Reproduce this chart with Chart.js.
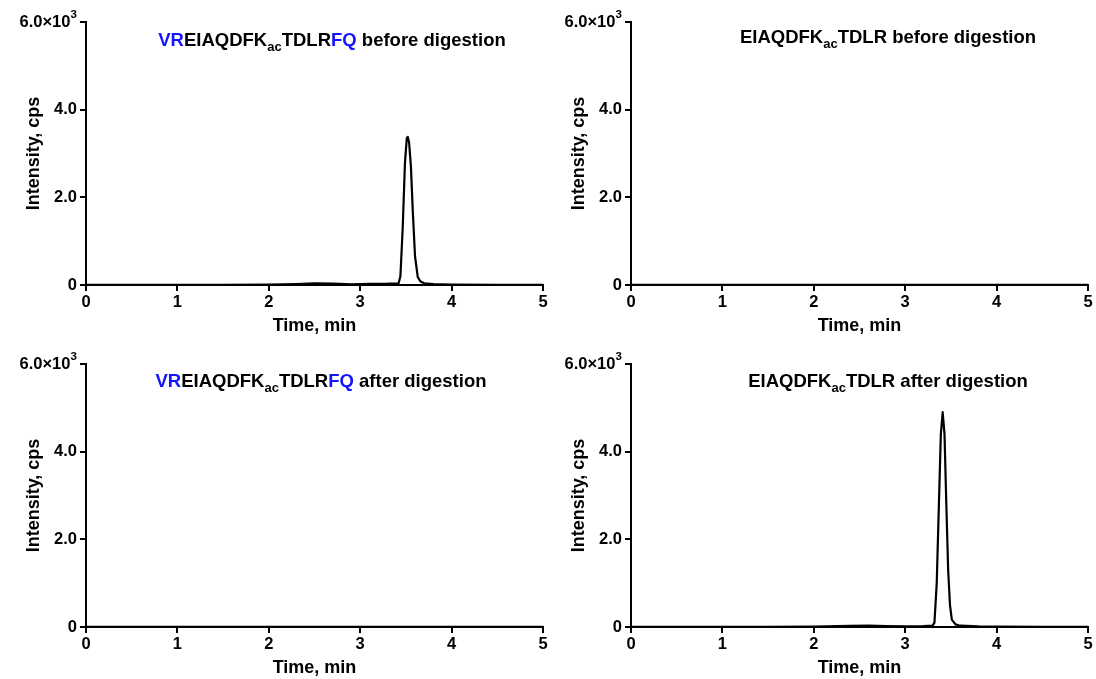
<!DOCTYPE html>
<html>
<head>
<meta charset="utf-8">
<script src="https://cdn.jsdelivr.net/npm/chart.js@4.4.1/dist/chart.umd.min.js"></script>
<style>
    body { margin: 0; background: #fff; font-family: "Liberation Sans", Arial, sans-serif; }
    #wrap { position: relative; width: 1096px; height: 679px; overflow: hidden; }
    canvas { position: absolute; }
    .ttl { position: absolute; width: 500px; text-align: center; font-weight: bold; font-size: 18.5px; line-height: 22px; color: #000; white-space: nowrap; }
    .ttl .b { color: #1414ff; }
    .ttl sub { font-size: 13px; vertical-align: -5px; line-height: 0; }
</style>
</head>
<body>
<div id="wrap">
    <canvas id="c-tl" width="551" height="340" style="left:0;top:0"></canvas>
    <canvas id="c-tr" width="551" height="340" style="left:545px;top:0"></canvas>
    <canvas id="c-bl" width="551" height="340" style="left:0;top:342px"></canvas>
    <canvas id="c-br" width="551" height="340" style="left:545px;top:342px"></canvas>

    <div class="ttl" style="left:82px;top:29px"><span class="b">VR</span>EIAQDFK<sub>ac</sub>TDLR<span class="b">FQ</span> before digestion</div>
    <div class="ttl" style="left:638px;top:26px">EIAQDFK<sub>ac</sub>TDLR before digestion</div>
    <div class="ttl" style="left:71px;top:370px"><span class="b">VR</span>EIAQDFK<sub>ac</sub>TDLR<span class="b">FQ</span> after digestion</div>
    <div class="ttl" style="left:638px;top:370px">EIAQDFK<sub>ac</sub>TDLR after digestion</div>
</div>

<script>
// axis ticks
const xTicks = [0, 1, 2, 3, 4, 5];
const yTicks = [0, 2000, 4000, 6000];
const yTickLabels = ["0", "2.0", "4.0", "6.0×10\u2009\u2009"];  // exponent drawn by the plugin below
const yExponent = "3";

// VR...FQ before digestion (peak ~3.52 min)
const tlTime = [0, 0.5, 1.0, 1.5, 2.0, 2.3, 2.5, 2.7, 2.9, 3.1, 3.3, 3.42, 3.44, 3.465, 3.49, 3.51, 3.52, 3.535, 3.555, 3.575, 3.60, 3.63, 3.66, 3.70, 3.80, 4.0, 4.5, 5.0];
const tlIntensity = [5, 5, 5, 6, 8, 20, 35, 30, 15, 25, 30, 40, 200, 1300, 2800, 3350, 3380, 3250, 2700, 1700, 650, 180, 80, 40, 20, 10, 6, 5];

// EIAQDFKacTDLR before digestion (nothing)
const trTime = [0, 1, 2, 3, 4, 5];
const trIntensity = [3, 3, 4, 4, 3, 3];

// VR...FQ after digestion (nothing)
const blTime = [0, 1, 2, 3, 4, 5];
const blIntensity = [3, 3, 4, 4, 3, 3];

// EIAQDFKacTDLR after digestion (peak ~3.41 min)
const brTime = [0, 0.5, 1.0, 1.5, 2.0, 2.4, 2.6, 2.8, 3.0, 3.2, 3.30, 3.32, 3.345, 3.37, 3.39, 3.41, 3.43, 3.45, 3.47, 3.49, 3.51, 3.55, 3.60, 3.80, 4.0, 4.5, 5.0];
const brIntensity = [5, 5, 5, 6, 8, 25, 30, 20, 15, 20, 30, 100, 1000, 2900, 4400, 4900, 4400, 2800, 1300, 500, 170, 60, 30, 15, 10, 6, 5];

// draws the raised "3" of 6.0×10³ next to the top y tick label
const exponentPlugin = {
    id: "exponent",
    afterDraw(chart) {
        const y = chart.scales.y;
        const ctx = chart.ctx;
        const py = y.getPixelForValue(6000);
        ctx.save();
        ctx.fillStyle = "#000";
        ctx.font = "bold 11.5px 'Liberation Sans'";
        ctx.textAlign = "right";
        ctx.textBaseline = "middle";
        ctx.fillText(yExponent, y.right - 6 - 3, py - 7);
        ctx.restore();
    }
};

function makeChart(id, times, values) {
    const ctx = document.getElementById(id).getContext("2d");
    const points = times.map((t, i) => ({ x: t, y: values[i] }));
    return new Chart(ctx, {
        type: "line",
        data: {
            datasets: [{
                data: points,
                borderColor: "#000",
                borderWidth: 2.2,
                borderJoinStyle: "round",
                pointRadius: 0,
                tension: 0,
                fill: false
            }]
        },
        options: {
            responsive: false,
            animation: false,
            devicePixelRatio: 1,
            layout: { padding: { left: 0, top: 22, right: 8, bottom: 0 } },
            plugins: { legend: { display: false }, tooltip: { enabled: false } },
            scales: {
                x: {
                    type: "linear",
                    min: 0,
                    max: 5,
                    afterBuildTicks: s => { s.ticks = xTicks.map(v => ({ value: v })); },
                    afterFit: s => { s.height = 55; },
                    ticks: {
                        color: "#000",
                        font: { family: "Liberation Sans", size: 16.5, weight: "bold" },
                        padding: 2,
                        maxRotation: 0
                    },
                    grid: { drawOnChartArea: false, drawTicks: true, tickLength: 6, color: "#000", lineWidth: 2 },
                    border: { display: true, color: "#000", width: 2 },
                    title: {
                        display: true,
                        text: "Time, min",
                        color: "#000",
                        font: { family: "Liberation Sans", size: 18, weight: "bold" },
                        padding: { top: 0, bottom: 3 }
                    }
                },
                y: {
                    min: 0,
                    max: 6000,
                    afterBuildTicks: s => { s.ticks = yTicks.map(v => ({ value: v })); },
                    afterFit: s => { s.width = 86; },
                    ticks: {
                        color: "#000",
                        font: { family: "Liberation Sans", size: 16.5, weight: "bold" },
                        padding: 3,
                        callback: v => yTickLabels[yTicks.indexOf(v)]
                    },
                    grid: { drawOnChartArea: false, drawTicks: true, tickLength: 6, color: "#000", lineWidth: 2 },
                    border: { display: true, color: "#000", width: 2 },
                    title: {
                        display: true,
                        text: "Intensity, cps",
                        color: "#000",
                        font: { family: "Liberation Sans", size: 18, weight: "bold" },
                        padding: { top: 23, bottom: 0 }
                    }
                }
            }
        },
        plugins: [exponentPlugin]
    });
}

makeChart("c-tl", tlTime, tlIntensity);
makeChart("c-tr", trTime, trIntensity);
makeChart("c-bl", blTime, blIntensity);
makeChart("c-br", brTime, brIntensity);
</script>
</body>
</html>
